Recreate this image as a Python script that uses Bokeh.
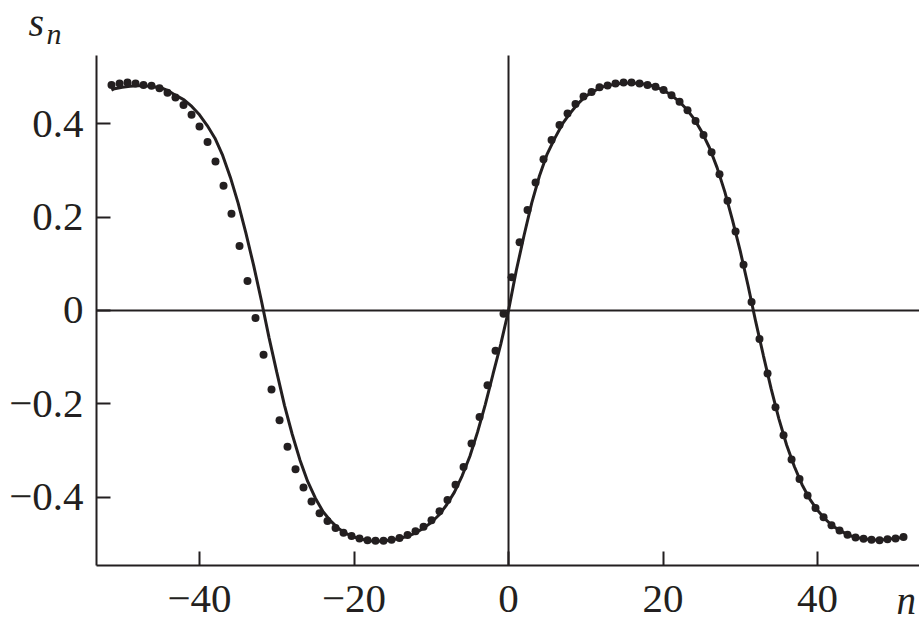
from bokeh.plotting import figure
from bokeh.models import Range1d, FixedTicker, CustomJSTickFormatter, Label
from bokeh.embed import file_html
from bokeh.resources import INLINE

# ---- data ----
x_ticks = [-40, -20, 0, 20, 40]
y_ticks = [-0.4, -0.2, 0.0, 0.2, 0.4]

# simulated points (dots)
n_dots = [-51.39, -50.35, -49.32, -48.28, -47.25, -46.21, -45.18, -44.14, -43.11, -42.07,
          -41.03, -40.00, -38.96, -37.93, -36.89, -35.86, -34.82, -33.79, -32.75, -31.71,
          -30.68, -29.64, -28.61, -27.57, -26.54, -25.50, -24.46, -23.43, -22.39, -21.36,
          -20.32, -19.29, -18.25, -17.22, -16.18, -15.14, -14.11, -13.07, -12.04, -11.00,
          -9.97, -8.93, -7.90, -6.86, -5.82, -4.79, -3.75, -2.72, -1.68, -0.65,
          0.39, 1.43, 2.46, 3.50, 4.53, 5.57, 6.60, 7.64, 8.67, 9.71,
          10.75, 11.78, 12.82, 13.85, 14.89, 15.92, 16.96, 17.99, 19.03, 20.07,
          21.10, 22.14, 23.17, 24.21, 25.24, 26.28, 27.31, 28.35, 29.39, 30.42,
          31.46, 32.49, 33.53, 34.56, 35.60, 36.64, 37.67, 38.71, 39.74, 40.78,
          41.81, 42.85, 43.88, 44.92, 45.96, 46.99, 48.03, 49.06, 50.10, 51.13]
s_dots = [0.483, 0.486, 0.488, 0.486, 0.483, 0.481, 0.476, 0.466, 0.456, 0.440,
          0.419, 0.394, 0.361, 0.319, 0.267, 0.207, 0.138, 0.063, -0.016, -0.095,
          -0.169, -0.235, -0.292, -0.340, -0.379, -0.409, -0.434, -0.451, -0.466, -0.476,
          -0.483, -0.488, -0.492, -0.493, -0.493, -0.491, -0.487, -0.481, -0.473, -0.463,
          -0.449, -0.430, -0.406, -0.373, -0.335, -0.285, -0.228, -0.160, -0.086, -0.007,
          0.071, 0.146, 0.215, 0.274, 0.324, 0.365, 0.397, 0.422, 0.442, 0.458,
          0.468, 0.478, 0.482, 0.486, 0.488, 0.488, 0.486, 0.483, 0.479, 0.472,
          0.461, 0.447, 0.429, 0.406, 0.376, 0.339, 0.292, 0.235, 0.169, 0.098,
          0.018, -0.061, -0.135, -0.207, -0.267, -0.319, -0.361, -0.396, -0.423, -0.443,
          -0.460, -0.471, -0.480, -0.486, -0.489, -0.491, -0.492, -0.490, -0.488, -0.485]

# theoretical curve (solid line)
n_line = [-51.4, -51, -50, -49, -48, -47, -46, -45, -44, -43, -42, -41, -40, -39, -38,
          -37, -36, -35, -34, -33, -32, -31, -30, -29, -28, -27, -26, -25, -24, -23,
          -22, -21, -20, -19, -18, -17, -16, -15, -14, -13, -12, -11, -10, -9, -8,
          -7, -6, -5, -4, -3, -2, -1, 0, 1, 2, 3, 4, 5, 6, 7,
          8, 9, 10, 11, 12, 13, 14, 15, 16, 17, 18, 19, 20, 21, 22,
          23, 24, 25, 26, 27, 28, 29, 30, 31, 32, 33, 34, 35, 36, 37,
          38, 39, 40, 41, 42, 43, 44, 45, 46, 47, 48, 49, 50, 51, 51.4]
s_line = [0.472, 0.475, 0.478, 0.480, 0.481, 0.481, 0.479, 0.477, 0.470, 0.460, 0.451, 0.437, 0.419, 0.396, 0.369,
          0.332, 0.285, 0.230, 0.166, 0.097, 0.022, -0.058, -0.132, -0.203, -0.265, -0.320, -0.366, -0.402, -0.431, -0.451,
          -0.467, -0.478, -0.485, -0.490, -0.493, -0.494, -0.493, -0.491, -0.488, -0.483, -0.476, -0.466, -0.454, -0.438, -0.416,
          -0.389, -0.354, -0.312, -0.260, -0.201, -0.136, -0.072, 0.000, 0.085, 0.160, 0.230, 0.288, 0.335, 0.369, 0.400,
          0.423, 0.443, 0.459, 0.469, 0.478, 0.482, 0.485, 0.487, 0.487, 0.486, 0.484, 0.479, 0.472, 0.462, 0.449,
          0.432, 0.411, 0.383, 0.349, 0.306, 0.254, 0.193, 0.127, 0.054, -0.024, -0.097, -0.168, -0.232, -0.288, -0.334,
          -0.373, -0.404, -0.428, -0.447, -0.462, -0.472, -0.481, -0.486, -0.489, -0.491, -0.492, -0.490, -0.488, -0.486, -0.484]

# axis extents (the drawn axes) and the visible window around them
x_lo, x_hi = -53.33, 53.20
y_lo, y_hi = -0.546, 0.546
x_view = (-65.76, 53.20)
y_view = (-0.6767, 0.6638)

INK = "#231f20"
FONT = "Liberation Serif"

p = figure(width=919, height=626,
           x_range=Range1d(*x_view), y_range=Range1d(*y_view),
           output_backend="svg", toolbar_location=None,
           min_border_left=0, min_border_right=0, min_border_top=0, min_border_bottom=0)
p.title.visible = False
p.outline_line_color = None
p.background_fill_color = "white"
p.border_fill_color = "white"
p.xgrid.visible = False
p.ygrid.visible = False

xa = p.xaxis[0]
ya = p.yaxis[0]
xa.fixed_location = y_lo
ya.fixed_location = x_lo
xa.bounds = (x_lo, x_hi)
ya.bounds = (y_lo, y_hi)

for ax in (xa, ya):
    ax.axis_line_color = INK
    ax.axis_line_width = 2
    ax.major_tick_line_color = INK
    ax.major_tick_line_width = 2
    ax.major_tick_in = 14
    ax.major_tick_out = 0
    ax.minor_tick_line_color = None
    ax.major_label_text_font = FONT
    ax.major_label_text_font_size = "41px"
    ax.major_label_text_color = INK

xa.ticker = FixedTicker(ticks=x_ticks)
ya.ticker = FixedTicker(ticks=y_ticks)
xa.formatter = CustomJSTickFormatter(code="""
    return (tick < 0 ? "\u2212" : "") + Math.abs(tick).toString();
""")
ya.formatter = CustomJSTickFormatter(code="""
    if (Math.abs(tick) < 1e-9) { return "0"; }
    return (tick < 0 ? "\u2212" : "") + Math.abs(tick).toFixed(1);
""")
xa.major_label_standoff = 21
ya.major_label_standoff = 13

# zero lines spanning the axes extents
p.segment(x0=[x_lo], y0=[0], x1=[x_hi], y1=[0], line_color=INK, line_width=2)
p.segment(x0=[0], y0=[y_lo], x1=[0], y1=[y_hi], line_color=INK, line_width=2)

p.line(n_line, s_line, line_color=INK, line_width=3)
p.scatter(n_dots, s_dots, size=8, fill_color=INK, line_color=None)

p.add_layout(Label(x=-62.14, y=0.6167, text="s", text_font=FONT, text_font_style="italic",
                   text_font_size="40px", text_color=INK, text_baseline="alphabetic"))
p.add_layout(Label(x=-59.8, y=0.5931, text="n", text_font=FONT, text_font_style="italic",
                   text_font_size="30px", text_color=INK, text_baseline="alphabetic"))
p.add_layout(Label(x=50.23, y=-0.621, text="n", text_font=FONT, text_font_style="italic",
                   text_font_size="39px", text_color=INK, text_baseline="alphabetic"))

open("out.html", "w").write(file_html(p, INLINE))
